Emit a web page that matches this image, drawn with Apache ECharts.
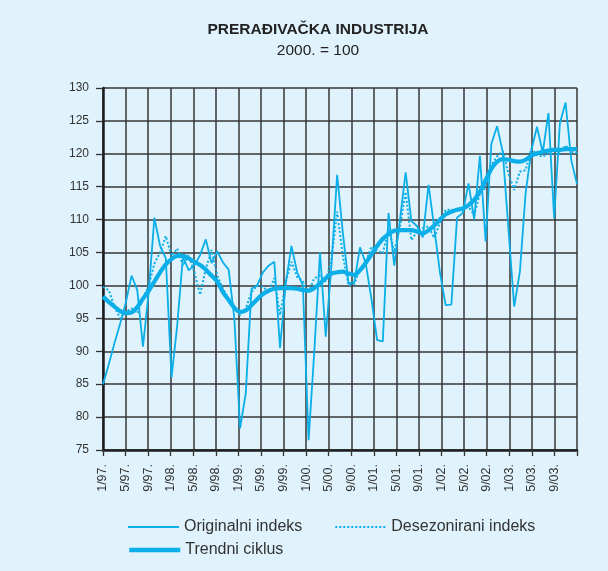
<!DOCTYPE html>
<html>
<head>
<meta charset="utf-8">
<script src="https://cdn.jsdelivr.net/npm/echarts@6/dist/echarts.min.js"></script>
<style>
  html, body { margin: 0; padding: 0; background: #e0f2fb; }
  #chart { width: 608px; height: 571px; }
</style>
</head>
<body>
<div id="chart"></div>
<script>
// months 1/97 .. 12/03
var years = ['97', '98', '99', '00', '01', '02', '03'];
var months = [];
years.forEach(function (y) {
  for (var m = 1; m <= 12; m++) months.push(m + '/' + y + '.');
});
// axis runs one step further (to 1/04.)
var axisMonths = months.concat(['1/04.']);

var originalni = [
  85, 88, 91.2, 94.2, 97.4, 101.5, 99.3, 90.7, 99, 110.3, 106, 104.1,
  86, 94, 104.4, 102.3, 103.1, 104.6, 107, 103.4, 105.2, 103.5, 102.4, 95,
  78.3, 83.6, 99.5, 100, 102, 103, 103.6, 90.5, 100.3, 106, 102, 100,
  76.5, 90, 105, 92.2, 103, 116.8, 108, 100.3, 100.5, 105.8, 103.4, 98,
  91.7, 91.5, 111, 103, 110, 117.2, 109.8, 109, 107.3, 115.3, 108.8, 102,
  97, 97.1, 110.3, 111, 115.5, 110, 119.7, 106.7, 121.5, 124.2, 120.3, 108.5,
  96.8, 102.1, 114, 120.5, 124.1, 120.2, 126.2, 110.2, 124.6, 127.8, 119, 115.4
];
var desezonirani = [
  99.8, 99.3, 96.8, 95, 96, 96.5, 95.8, 98, 100, 103.3, 105, 107.5,
  104.5, 105.6, 103, 104.6, 102, 98.6, 102.5, 105.4, 101.5, 99.5, 98, 96.5,
  95.5, 96.5, 99, 100, 99.8, 99, 101.1, 95.5, 100.5, 103.6, 101.3, 100.6,
  99, 101.1, 101.5, 100.6, 104, 111.2, 104.5, 100, 100.2, 102.6, 103.5, 105.9,
  105.3, 104.9, 108.7, 105.1, 109, 114.2, 106.9, 108.2, 108.7, 109, 107.2, 109.5,
  111.5, 111.5, 111.3, 111.5, 112, 110.7, 114, 114.8, 118.3, 119.6, 120.4, 117,
  114.5, 117.3, 117.5, 120.8, 119.8, 119.6, 120.1, 119.9, 120.1, 121.3, 120.3, 120.1
];
var trendni = [
  98.3, 97.5, 96.8, 96.1, 95.8, 95.9, 96.7, 98, 99.2, 100.6, 102, 103.2,
  104, 104.5, 104.5, 104.1, 103.6, 103.1, 102.4, 101.5, 100.6, 99, 97.8, 96.6,
  96, 96.2, 97, 97.9, 98.7, 99.2, 99.5, 99.6, 99.6, 99.6, 99.5, 99.3,
  99.2, 99.6, 100.3, 101.1, 101.8, 102, 102.1, 101.8, 101.6, 102.3, 103.4, 104.7,
  106, 107.1, 107.8, 108.3, 108.4, 108.4, 108.4, 108.2, 107.9, 108.4, 109.1, 110,
  110.8, 111.2, 111.5, 111.7, 112.2, 113, 114.3, 116, 117.7, 118.8, 119.2, 119.1,
  118.9, 118.8, 119.1, 119.7, 120.1, 120.3, 120.5, 120.6, 120.6, 120.7, 120.7, 120.7
];

var blue = '#0aaee8';
var font = 'Liberation Sans, Arial, sans-serif';
var gridColor = '#363636';
var everyFourth = function (i) { return i % 4 === 0; };

var chart = echarts.init(document.getElementById('chart'));
chart.setOption({
  backgroundColor: '#e0f2fb',
  animation: false,
  title: {
    text: 'PRERAĐIVAČKA INDUSTRIJA',
    subtext: '2000. = 100',
    left: 313,
    top: 17,
    textAlign: 'center',
    itemGap: 5,
    textStyle: { fontFamily: font, fontSize: 15.5, fontWeight: 'bold', color: '#222' },
    subtextStyle: { fontFamily: font, fontSize: 15.5, color: '#222' }
  },
  grid: { left: 103, right: 31, top: 88, bottom: 121, containLabel: false },
  legend: [{
    data: ['Originalni indeks', 'Desezonirani indeks'],
    left: 122, top: 514,
    itemWidth: 51, itemHeight: 12, itemGap: 32,
    itemStyle: { opacity: 0 },
    lineStyle: { width: 2 },
    textStyle: { fontFamily: font, fontSize: 16, color: '#333' }
  }, {
    data: ['Trendni ciklus'],
    left: 122, top: 537,
    itemWidth: 51, itemHeight: 12,
    itemStyle: { opacity: 0 },
    lineStyle: { width: 4.5 },
    textStyle: { fontFamily: font, fontSize: 16, color: '#333' }
  }],
  xAxis: [{
    type: 'category',
    data: axisMonths,
    boundaryGap: false,
    axisLine: { lineStyle: { color: '#1e1e1e', width: 2.5 } },
    axisTick: { interval: everyFourth, length: 6, lineStyle: { color: '#333', width: 1.3 } },
    axisLabel: {
      interval: function (i) { return i % 4 === 0 && i < 84; },
      rotate: 90, margin: 14,
      fontFamily: font, fontSize: 12.5, color: '#333'
    },
    splitLine: { show: true, interval: everyFourth, lineStyle: { color: gridColor, width: 1.5 } }
  }, {
    type: 'category',
    data: months,
    boundaryGap: false,
    show: false
  }],
  yAxis: {
    type: 'value',
    min: 75, max: 130, interval: 5,
    axisLine: { show: true, lineStyle: { color: '#1e1e1e', width: 2.5 } },
    axisTick: { show: true, length: 7, lineStyle: { color: '#333', width: 1.3 } },
    axisLabel: { margin: 14, fontFamily: font, fontSize: 12, color: '#333' },
    splitLine: { show: true, lineStyle: { color: gridColor, width: 1.5 } }
  },
  series: [{
    name: 'Originalni indeks',
    type: 'line',
    xAxisIndex: 1,
    data: originalni,
    symbol: 'none',
    lineStyle: { color: blue, width: 1.8 },
    itemStyle: { color: blue },
    z: 3
  }, {
    name: 'Desezonirani indeks',
    type: 'line',
    xAxisIndex: 1,
    data: desezonirani,
    symbol: 'none',
    lineStyle: { color: blue, width: 2, type: [2, 2] },
    itemStyle: { color: blue },
    z: 4
  }, {
    name: 'Trendni ciklus',
    type: 'line',
    xAxisIndex: 1,
    data: trendni,
    symbol: 'none',
    smooth: 0.3,
    lineStyle: { color: blue, width: 4.2 },
    itemStyle: { color: blue },
    z: 5
  }]
});
</script>
</body>
</html>
